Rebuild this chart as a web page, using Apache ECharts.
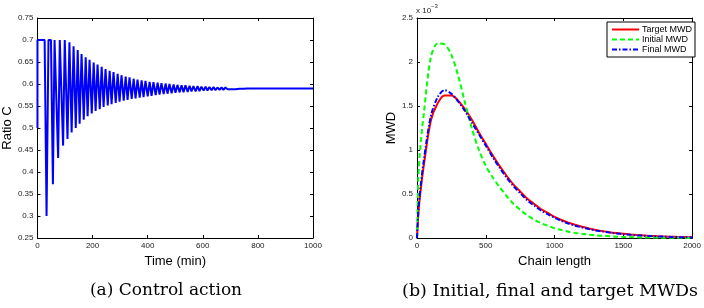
<!DOCTYPE html>
<html>
<head>
<meta charset="utf-8">
<script src="https://cdn.jsdelivr.net/npm/echarts@6/dist/echarts.min.js"></script>
<style>
  html, body { margin: 0; padding: 0; background: #fff; }
  #main { width: 704px; height: 308px; }
</style>
</head>
<body>
<div id="main"></div>
<script>
// (a) control action: turning points of the ratio C signal
const ctrlT = [0, 0, 26, 33, 40, 49, 56, 62, 69, 75,
  81, 87, 93, 99, 103, 109, 116, 124, 131, 139,
  146, 153, 160, 168, 175, 182, 189, 197, 204, 211,
  218, 226, 233, 240, 247, 255, 262, 269, 276, 284,
  291, 298, 305, 313, 320, 327, 334, 342, 349, 356,
  363, 371, 378, 385, 392, 400, 407, 414, 421, 429,
  436, 443, 450, 458, 465, 472, 479, 487, 494, 501,
  508, 516, 523, 530, 537, 545, 552, 559, 566, 574,
  581, 588, 595, 603, 610, 617, 624, 632, 639, 646,
  653, 661, 668, 675, 682, 690, 697, 704, 711, 719,
  726, 733, 740, 748, 760, 1000];
const ctrlV = [0.5, 0.7, 0.7, 0.3, 0.7, 0.7, 0.372, 0.7, 0.7, 0.432,
  0.7, 0.7, 0.46, 0.7, 0.7, 0.475, 0.695, 0.49, 0.686, 0.5,
  0.677, 0.51, 0.668, 0.519, 0.661, 0.527, 0.655, 0.533, 0.649, 0.539,
  0.644, 0.543, 0.639, 0.548, 0.634, 0.551, 0.63, 0.554, 0.627, 0.557,
  0.623, 0.56, 0.62, 0.562, 0.617, 0.564, 0.615, 0.566, 0.612, 0.567,
  0.61, 0.569, 0.608, 0.57, 0.607, 0.572, 0.605, 0.573, 0.604, 0.575,
  0.603, 0.576, 0.602, 0.577, 0.601, 0.578, 0.6, 0.579, 0.599, 0.58,
  0.598, 0.581, 0.597, 0.581, 0.597, 0.582, 0.596, 0.583, 0.595, 0.583,
  0.595, 0.584, 0.594, 0.585, 0.594, 0.585, 0.593, 0.586, 0.593, 0.586,
  0.592, 0.587, 0.592, 0.587, 0.592, 0.588, 0.591, 0.588, 0.591, 0.588,
  0.591, 0.589, 0.5905, 0.589, 0.5897, 0.5897];

// (b) MWDs, values in units of 10^-3
const chainLen = [0, 10, 25, 50, 100, 150, 200, 250, 300, 350, 400, 450, 500,
  550, 600, 650, 700, 750, 800, 850, 900, 950, 1000,
  1050, 1100, 1150, 1200, 1250, 1300, 1350, 1400, 1450, 1500,
  1550, 1600, 1650, 1700, 1750, 1800, 1850, 1900, 1950, 2000];
const targetMWD = [0, 0.28, 0.52, 0.83, 1.33, 1.53, 1.62, 1.62, 1.56, 1.46, 1.34, 1.2, 1.07,
  0.94, 0.82, 0.71, 0.61, 0.53, 0.45, 0.39, 0.33, 0.285, 0.24,
  0.205, 0.175, 0.15, 0.127, 0.108, 0.092, 0.078, 0.066, 0.056, 0.047,
  0.04, 0.034, 0.029, 0.024, 0.02, 0.017, 0.014, 0.012, 0.01, 0.008];
const initialMWD = [0, 0.7, 1.05, 1.42, 2.05, 2.21, 2.2, 2.08, 1.84, 1.53, 1.24, 1.0, 0.82,
  0.69, 0.58, 0.48, 0.39, 0.32, 0.26, 0.21, 0.17, 0.14, 0.11,
  0.09, 0.072, 0.058, 0.047, 0.038, 0.03, 0.024, 0.019, 0.015, 0.012,
  0.01, 0.008, 0.006, 0.005, 0.004, 0.003, 0.002, 0.002, 0.001, 0.001];
const finalMWD = [0, 0.31, 0.57, 0.89, 1.38, 1.6, 1.68, 1.64, 1.55, 1.44, 1.31, 1.18, 1.05,
  0.92, 0.8, 0.69, 0.59, 0.51, 0.43, 0.37, 0.315, 0.27, 0.23,
  0.195, 0.165, 0.14, 0.12, 0.102, 0.086, 0.073, 0.061, 0.052, 0.043,
  0.037, 0.031, 0.026, 0.022, 0.018, 0.015, 0.012, 0.01, 0.008, 0.007];

const sans = '"Liberation Sans", Arial, sans-serif';
const serif = '"DejaVu Serif", serif';
const zip = (xs, ys) => xs.map((x, i) => [x, ys[i]]);

// matlab-like boxed axis: ticks inside on every side
function axis(gi, pos, min, max, interval, extra) {
  const shown = pos === 'bottom' || pos === 'left';
  return Object.assign({
    type: 'value', gridIndex: gi, position: pos, min, max, interval,
    axisLine: { show: true, onZero: false, lineStyle: { color: '#000', width: 1 } },
    axisTick: { show: true, inside: true, length: 3, lineStyle: { color: '#000' } },
    axisLabel: { show: shown, color: '#222', fontSize: 8, fontFamily: sans, margin: 4,
      formatter: v => String(v) },
    splitLine: { show: false },
    nameTextStyle: { color: '#000', fontSize: 13, fontFamily: sans }
  }, extra || {});
}

const chart = echarts.init(document.getElementById('main'), null, { renderer: 'canvas' });

chart.setOption({
  animation: false,
  backgroundColor: '#fff',
  grid: [
    { left: 33, top: 18, width: 280, height: 220 },
    { left: 417, top: 18, width: 278, height: 220 }
  ],
  xAxis: [
    axis(0, 'bottom', 0, 1000, 200, { name: 'Time (min)', nameLocation: 'middle', nameGap: 12 }),
    axis(0, 'top', 0, 1000, 200),
    axis(1, 'bottom', 0, 2000, 500, { name: 'Chain length', nameLocation: 'middle', nameGap: 12 }),
    axis(1, 'top', 0, 2000, 500)
  ],
  yAxis: [
    axis(0, 'left', 0.25, 0.75, 0.05, { name: 'Ratio C', nameLocation: 'middle', nameGap: 17 }),
    axis(0, 'right', 0.25, 0.75, 0.05),
    axis(1, 'left', 0, 2.5, 0.5, { name: 'MWD', nameLocation: 'middle', nameGap: 18 }),
    axis(1, 'right', 0, 2.5, 0.5)
  ],
  legend: {
    data: ['Target MWD', 'Initial MWD', 'Final MWD'],
    orient: 'vertical',
    left: 607, top: 22,
    padding: [3, 3, 3, 4],
    itemGap: 1,
    itemWidth: 27, itemHeight: 10,
    itemStyle: { opacity: 0 },
    borderColor: '#000', borderWidth: 1,
    backgroundColor: '#fff',
    textStyle: { fontSize: 9, fontFamily: sans, color: '#000', padding: [0, 0, 0, -2] }
  },
  graphic: [
    { type: 'text', x: 416, y: 7,
      style: { text: 'x 10', fontSize: 8, fontFamily: sans, fill: '#222' } },
    { type: 'text', x: 431, y: 3,
      style: { text: '\u22123', fontSize: 6, fontFamily: sans, fill: '#222' } },
    { type: 'text', x: 166, y: 291,
      style: { text: '(a) Control action', fontSize: 17, fontFamily: serif,
        fill: '#000', align: 'center', verticalAlign: 'middle' } },
    { type: 'text', x: 550, y: 291,
      style: { text: '(b) Initial, final and target MWDs', fontSize: 17.5, fontFamily: serif,
        fill: '#000', align: 'center', verticalAlign: 'middle' } }
  ],
  series: [
    {
      name: 'Ratio C', type: 'line', xAxisIndex: 0, yAxisIndex: 0,
      data: zip(ctrlT, ctrlV), symbol: 'none',
      lineStyle: { color: '#0000ff', width: 2 }
    },
    {
      name: 'Target MWD', type: 'line', xAxisIndex: 2, yAxisIndex: 2,
      data: zip(chainLen, targetMWD), symbol: 'none', smooth: 0.3,
      lineStyle: { color: '#ff0000', width: 2 }, itemStyle: { color: '#ff0000' }
    },
    {
      name: 'Initial MWD', type: 'line', xAxisIndex: 2, yAxisIndex: 2,
      data: zip(chainLen, initialMWD), symbol: 'none', smooth: 0.3,
      lineStyle: { color: '#00ff00', width: 2, type: [5, 3] }, itemStyle: { color: '#00ff00' }
    },
    {
      name: 'Final MWD', type: 'line', xAxisIndex: 2, yAxisIndex: 2,
      data: zip(chainLen, finalMWD), symbol: 'none', smooth: 0.3,
      lineStyle: { color: '#0000ff', width: 2, type: [5, 2, 1.5, 2] }, itemStyle: { color: '#0000ff' }
    }
  ]
});
</script>
</body>
</html>
